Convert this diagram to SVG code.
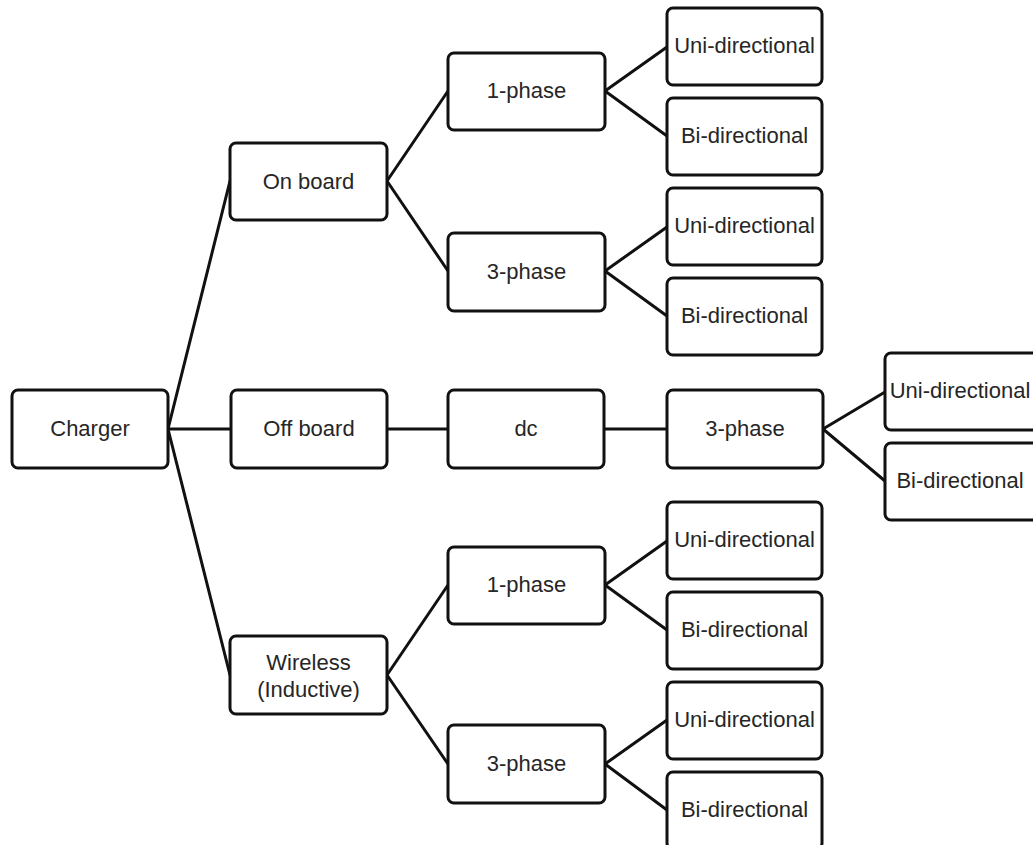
<svg xmlns="http://www.w3.org/2000/svg" width="1033" height="845" viewBox="0 0 1033 845">
<style>
.n rect{fill:#fff;stroke:#111;stroke-width:3}
.n text{font-family:"Liberation Sans",Arial,sans-serif;font-size:22px;fill:#262626;text-anchor:middle;dominant-baseline:central}
#connectors line{stroke:#111;stroke-width:3;stroke-linecap:round}
</style>
<rect width="1033" height="845" fill="#fff"/>
<g id="connectors">
<line x1="168" y1="429" x2="230" y2="181"/>
<line x1="168" y1="429" x2="231" y2="429"/>
<line x1="168" y1="429" x2="230" y2="675"/>
<line x1="387" y1="429" x2="448" y2="429"/>
<line x1="604" y1="429" x2="667" y2="429"/>
<line x1="823" y1="429" x2="885" y2="392"/>
<line x1="823" y1="429" x2="885" y2="481"/>
<line x1="387" y1="181" x2="448" y2="91"/>
<line x1="387" y1="181" x2="448" y2="271"/>
<line x1="605" y1="91" x2="667" y2="47"/>
<line x1="605" y1="91" x2="667" y2="136"/>
<line x1="605" y1="271" x2="667" y2="227"/>
<line x1="605" y1="271" x2="667" y2="316"/>
<line x1="387" y1="675" x2="448" y2="585"/>
<line x1="387" y1="675" x2="448" y2="764"/>
<line x1="605" y1="585" x2="667" y2="541"/>
<line x1="605" y1="585" x2="667" y2="630"/>
<line x1="605" y1="764" x2="667" y2="720"/>
<line x1="605" y1="764" x2="667" y2="810"/>
</g>
<g id="charger" class="n"><rect x="12" y="390" width="156" height="78" rx="6"/><text x="90" y="428">Charger</text></g>
<g id="onboard" class="n"><rect x="230" y="143" width="157" height="77" rx="6"/><text x="308.5" y="181">On board</text></g>
<g id="offboard" class="n"><rect x="231" y="390" width="156" height="78" rx="6"/><text x="309" y="428">Off board</text></g>
<g id="wireless" class="n"><rect x="230" y="636" width="157" height="78" rx="6"/><text x="308.5" y="662">Wireless</text><text x="308.5" y="689">(Inductive)</text></g>
<g id="onb-1phase" class="n"><rect x="448" y="53" width="157" height="77" rx="6"/><text x="526.5" y="90">1-phase</text></g>
<g id="onb-3phase" class="n"><rect x="448" y="233" width="157" height="78" rx="6"/><text x="526.5" y="271">3-phase</text></g>
<g id="dc" class="n"><rect x="448" y="390" width="156" height="78" rx="6"/><text x="526" y="428">dc</text></g>
<g id="dc-3phase" class="n"><rect x="667" y="390" width="156" height="78" rx="6"/><text x="745" y="428">3-phase</text></g>
<g id="wl-1phase" class="n"><rect x="448" y="547" width="157" height="77" rx="6"/><text x="526.5" y="584">1-phase</text></g>
<g id="wl-3phase" class="n"><rect x="448" y="725" width="157" height="78" rx="6"/><text x="526.5" y="763">3-phase</text></g>
<g id="uni1" class="n"><rect x="667" y="8" width="155" height="77" rx="6"/><text x="744.5" y="45.5">Uni-directional</text></g>
<g id="bi1" class="n"><rect x="667" y="98" width="155" height="77" rx="6"/><text x="744.5" y="135.5">Bi-directional</text></g>
<g id="uni2" class="n"><rect x="667" y="188" width="155" height="77" rx="6"/><text x="744.5" y="225.5">Uni-directional</text></g>
<g id="bi2" class="n"><rect x="667" y="278" width="155" height="77" rx="6"/><text x="744.5" y="315.5">Bi-directional</text></g>
<g id="uni5" class="n"><rect x="885" y="353" width="156" height="77" rx="6"/><text x="960" y="390.5">Uni-directional</text></g>
<g id="bi5" class="n"><rect x="885" y="443" width="156" height="77" rx="6"/><text x="960" y="480.5">Bi-directional</text></g>
<g id="uni3" class="n"><rect x="667" y="502" width="155" height="77" rx="6"/><text x="744.5" y="539.5">Uni-directional</text></g>
<g id="bi3" class="n"><rect x="667" y="592" width="155" height="77" rx="6"/><text x="744.5" y="629.5">Bi-directional</text></g>
<g id="uni4" class="n"><rect x="667" y="682" width="155" height="77" rx="6"/><text x="744.5" y="719.5">Uni-directional</text></g>
<g id="bi4" class="n"><rect x="667" y="772" width="155" height="77" rx="6"/><text x="744.5" y="809.5">Bi-directional</text></g>
</svg>
